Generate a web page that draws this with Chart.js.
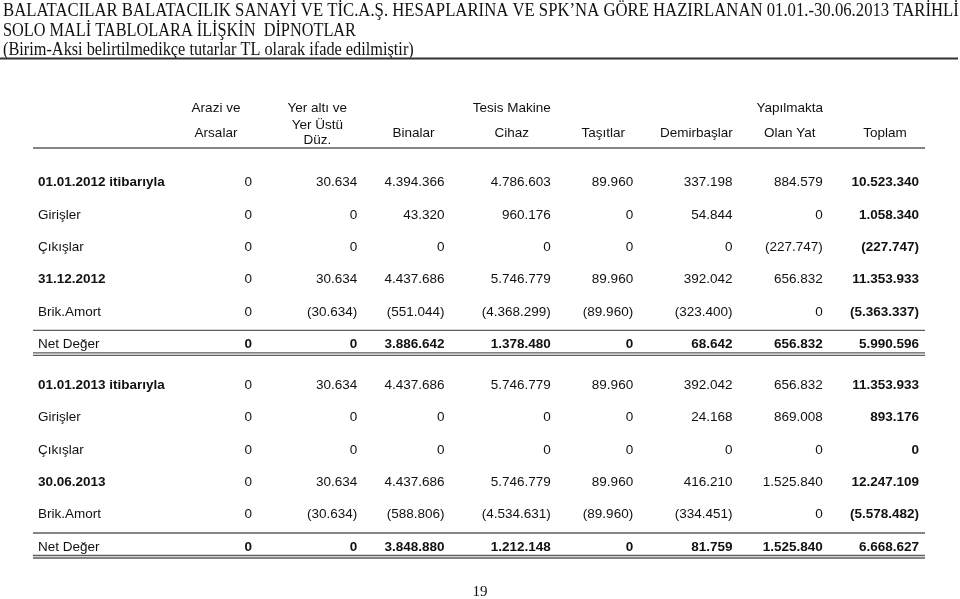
<!DOCTYPE html>
<html lang="tr">
<head>
<meta charset="utf-8">
<title>Maddi Duran Varlıklar</title>
<script src="https://cdn.jsdelivr.net/npm/chart.js@4.4.1/dist/chart.umd.min.js"></script>
<style>
  html, body { margin: 0; padding: 0; background: #fff; }
  #wrap { width: 960px; height: 599px; }
</style>
</head>
<body>
<div id="wrap"><canvas id="tbl" width="960" height="599"></canvas></div>
<script>
// --- data ---
const TITLE_LINES = [
  "BALATACILAR BALATACILIK SANAYİ VE TİC.A.Ş. HESAPLARINA VE SPK’NA GÖRE HAZIRLANAN 01.01.-30.06.2013 TARİHLİ",
  "SOLO MALİ TABLOLARA İLİŞKİN  DİPNOTLAR",
  "(Birim-Aksi belirtilmedikçe tutarlar TL olarak ifade edilmiştir)"
];
const PAGE_NO = "19";

const COLUMNS = ["Arazi ve Arsalar", "Yer altı ve Yer Üstü Düz.", "Binalar", "Tesis Makine Cihaz",
                 "Taşıtlar", "Demirbaşlar", "Yapılmakta Olan Yat", "Toplam"];
const HEADER_TOP    = ["Arazi ve", "Yer altı ve", "", "Tesis Makine", "", "", "Yapılmakta", ""];
const HEADER_BOTTOM = [["Arsalar"], ["Yer Üstü", "Düz."], ["Binalar"], ["Cihaz"],
                       ["Taşıtlar"], ["Demirbaşlar"], ["Olan Yat"], ["Toplam"]];

const ROW_LABELS = ["01.01.2012 itibarıyla", "Girişler", "Çıkışlar", "31.12.2012", "Brik.Amort", "Net Değer",
                    "01.01.2013 itibarıyla", "Girişler", "Çıkışlar", "30.06.2013", "Brik.Amort", "Net Değer"];
const BOLD_ROWS = [0, 3, 6, 9];
const NET_ROWS  = [5, 11];
const TOTAL_COL = 7;

const open2012   = [0, 30634, 4394366, 4786603, 89960, 337198, 884579, 10523340];
const in2012     = [0, 0, 43320, 960176, 0, 54844, 0, 1058340];
const out2012    = [0, 0, 0, 0, 0, 0, -227747, -227747];
const close2012  = [0, 30634, 4437686, 5746779, 89960, 392042, 656832, 11353933];
const dep2012    = [0, -30634, -551044, -4368299, -89960, -323400, 0, -5363337];
const net2012    = [0, 0, 3886642, 1378480, 0, 68642, 656832, 5990596];
const open2013   = [0, 30634, 4437686, 5746779, 89960, 392042, 656832, 11353933];
const in2013     = [0, 0, 0, 0, 0, 24168, 869008, 893176];
const out2013    = [0, 0, 0, 0, 0, 0, 0, 0];
const close2013  = [0, 30634, 4437686, 5746779, 89960, 416210, 1525840, 12247109];
const dep2013    = [0, -30634, -588806, -4534631, -89960, -334451, 0, -5578482];
const net2013    = [0, 0, 3848880, 1212148, 0, 81759, 1525840, 6668627];

const ROWS = [open2012, in2012, out2012, close2012, dep2012, net2012,
              open2013, in2013, out2013, close2013, dep2013, net2013];

// --- layout (kept apart from the data) ---
const COL_NUDGE  = [0, 10, 2, 13, 0, 4, -1, 0];          // right edge fine tuning
const HEAD_DX    = [-36, -40, -31, -39, -30, -36, -33, -34];
const TITLE_SX   = [0.928, 0.905, 0.905];                 // condensed scan look
const BLOCK_GAP  = 8.5;
const LABEL_X    = 38;
const LINE_L = 33, LINE_R = 925;
const SANS  = "'Liberation Sans', Arial, sans-serif";
const SERIF = "'Liberation Serif', 'Times New Roman', serif";
const FS = "13.5px ";
const INK = "#111";
const RULE = "#5c5c5c";

const rowKey = (i) => (i < 6 ? "A" : "B") + i + " " + ROW_LABELS[i];
const ROW_KEYS = ROW_LABELS.map((l, i) => rowKey(i));

const fmt = (n) => {
  const s = String(Math.abs(n)).replace(/\B(?=(\d{3})+(?!\d))/g, ".");
  return n < 0 ? "(" + s + ")" : s;
};

const cells = [];
ROWS.forEach((row, r) => row.forEach((v, c) => cells.push({ x: COLUMNS[c], y: ROW_KEYS[r], r, c })));

const tablePlugin = {
  id: "tableText",
  afterDatasetsDraw(chart) {
    const ctx = chart.ctx;
    const xs = chart.scales.x, ys = chart.scales.y;
    const colX = (c) => xs.getPixelForValue(c) + COL_NUDGE[c];
    const rowY = (r) => ys.getPixelForValue(r) + (r >= 6 ? BLOCK_GAP : 0);
    ctx.save();

    // title
    ctx.fillStyle = INK;
    ctx.font = "18px " + SERIF;
    ctx.textAlign = "left";
    ctx.textBaseline = "alphabetic";
    TITLE_LINES.forEach((t, i) => {
      ctx.save();
      ctx.scale(TITLE_SX[i], 1);
      ctx.fillText(t, 3 / TITLE_SX[i], 16 + i * 19.5);
      ctx.restore();
    });
    ctx.strokeStyle = "#333";
    ctx.lineWidth = 2;
    ctx.beginPath(); ctx.moveTo(0, 58.5); ctx.lineTo(958, 58.5); ctx.stroke();

    // headers
    ctx.font = FS + SANS;
    ctx.textAlign = "center";
    COLUMNS.forEach((_, c) => {
      const cx = colX(c) + HEAD_DX[c];
      if (HEADER_TOP[c]) ctx.fillText(HEADER_TOP[c], cx, 112);
      const b = HEADER_BOTTOM[c];
      if (b.length === 1) ctx.fillText(b[0], cx, 137);
      else { ctx.fillText(b[0], cx, 129); ctx.fillText(b[1], cx, 144); }
    });

    const hline = (y) => { ctx.beginPath(); ctx.moveTo(LINE_L, y); ctx.lineTo(LINE_R, y); ctx.stroke(); };
    ctx.strokeStyle = RULE;
    ctx.lineWidth = 1.3;
    hline(148);

    // row labels
    ctx.textAlign = "left";
    ctx.textBaseline = "middle";
    ROW_LABELS.forEach((l, r) => {
      ctx.font = (BOLD_ROWS.includes(r) ? "bold " : "") + FS + SANS;
      ctx.fillText(l, LABEL_X, rowY(r));
    });

    // cells, positioned from the dataset elements
    const meta = chart.getDatasetMeta(0);
    ctx.textAlign = "right";
    meta.data.forEach((el, i) => {
      const { r, c } = cells[i];
      const bold = c === TOTAL_COL || NET_ROWS.includes(r);
      ctx.font = (bold ? "bold " : "") + FS + SANS;
      ctx.fillText(fmt(ROWS[r][c]), el.x + COL_NUDGE[c], el.y + (r >= 6 ? BLOCK_GAP : 0));
    });

    // rules around Net Değer
    NET_ROWS.forEach((r) => {
      const y = rowY(r);
      hline(y - 14);
      hline(y + 8.5);
      hline(y + 11);
    });

    // page number
    ctx.font = "15px " + SERIF;
    ctx.textAlign = "center";
    ctx.textBaseline = "alphabetic";
    ctx.fillText(PAGE_NO, 480, 596);
    ctx.restore();
  }
};

new Chart(document.getElementById("tbl"), {
  type: "scatter",
  data: { datasets: [{ data: cells, pointRadius: 0, pointHoverRadius: 0 }] },
  options: {
    responsive: false,
    animation: false,
    events: [],
    layout: { padding: { left: 252, right: 41, top: 182.5, bottom: 60.5 } },
    plugins: { legend: { display: false }, tooltip: { enabled: false } },
    scales: {
      x: { type: "category", labels: COLUMNS, offset: false, display: false },
      y: { type: "category", labels: ROW_KEYS, offset: false, display: false }
    }
  },
  plugins: [tablePlugin]
});
</script>
</body>
</html>
